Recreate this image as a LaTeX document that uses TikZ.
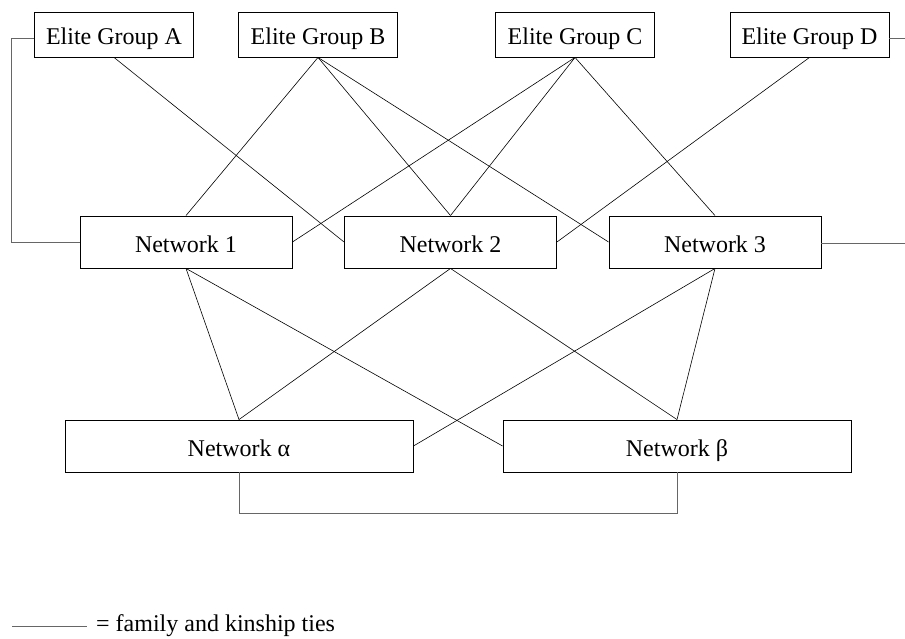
\documentclass[tikz,border=0pt]{standalone}
\usepackage{fontspec}
\setmainfont{Liberation Serif}
\begin{document}
\begin{tikzpicture}[x=1pt,y=-1pt,
  every node/.style={font=\fontsize{24}{28}\selectfont, inner sep=0pt},
  boxed/.style={draw=black, line width=0.9pt, text height=20pt, text depth=0pt},
  elite/.style={boxed, minimum width=159pt, minimum height=45pt},
  net/.style={boxed, minimum width=212pt, minimum height=52pt},
  wide/.style={boxed, minimum width=348pt, minimum height=52pt},
  tie/.style={draw=black, line width=0.6pt},
  link/.style={draw=black!60, line width=0.9pt}]
\useasboundingbox (0,0) rectangle (905,639);

% elite groups
\node[elite] (A) at (114,34.5) {Elite Group A};
\node[elite] (B) at (318,34.5) {Elite Group B};
\node[elite] (C) at (575,34.5) {Elite Group C};
\node[elite] (D) at (809.5,34.5) {Elite Group D};

% middle networks
\node[net] (N1) at (186,242) {Network 1};
\node[net] (N2) at (450.5,242) {Network 2};
\node[net] (N3) at (715,242) {Network 3};

% lower networks
\node[wide] (Na) at (239,446) {Network α};
\node[wide] (Nb) at (677,446) {Network β};

% ties from elite groups
\path[tie] (A.south) -- (N2.west);
\path[tie] (B.south) -- (N1.north);
\path[tie] (B.south) -- (N2.north);
\path[tie] (B.south) -- (N3.west);
\path[tie] (C.south) -- (N1.east);
\path[tie] (C.south) -- (N2.north);
\path[tie] (C.south) -- (N3.north);
\path[tie] (D.south) -- (N2.east);

% ties between network rows
\path[tie] (N1.south) -- (Na.north);
\path[tie] (N1.south) -- (Nb.west);
\path[tie] (N2.south) -- (Na.north);
\path[tie] (N2.south) -- (Nb.north);
\path[tie] (N3.south) -- (Na.east);
\path[tie] (N3.south) -- (Nb.north);

% elbow connectors
\path[link] ([yshift=-3.5pt]A.west) -- ++(-23,0) |- (N1.west);
\coordinate (Dend) at (905,38);
\coordinate (N3end) at (905,243);
\path[link] (D.east |- Dend) -- (Dend);
\path[link] (N3.east |- N3end) -- (N3end);
\path[link] (Na.south) -- ++(0,41) -| (Nb.south);

% legend
\coordinate (L1) at (12,626);
\coordinate (L2) at (87,626);
\path[link] (L1) -- (L2);
\node[anchor=west, text height=17pt, text depth=6pt] (Ltext) at (96,626) {= family and kinship ties};
\end{tikzpicture}
\end{document}
